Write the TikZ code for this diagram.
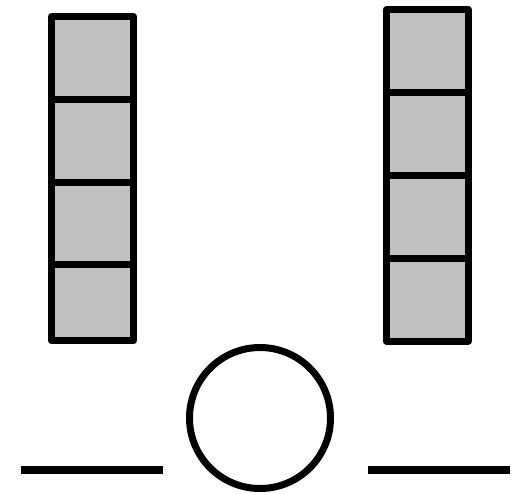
\documentclass[tikz,border=0pt]{standalone}
\begin{document}
\begin{tikzpicture}[x=1pt,y=-1pt,
  cell/.style={draw=black,fill={rgb,255:red,192;green,192;blue,192},line width=7pt,line join=round},
  ring/.style={draw=black,line width=7pt},
  bar/.style={draw=black,line width=8pt}]
\useasboundingbox (0,0) rectangle (511,493);
% left column
\foreach \a/\b in {16.5/99.3,99.3/182.3,182.3/264.5,264.5/340.7}
  \path[cell] (51.5,\a) rectangle (133.5,\b);
% right column
\foreach \a/\b in {9.5/92,92/175,175/258.3,258.3/341}
  \path[cell] (386.3,\a) rectangle (468.3,\b);
% circle
\path[ring] (260,418) circle[radius=70.5];
% bars
\path[bar] (21,470) -- (163,470);
\path[bar] (368,470) -- (510,470);
\end{tikzpicture}
\end{document}
